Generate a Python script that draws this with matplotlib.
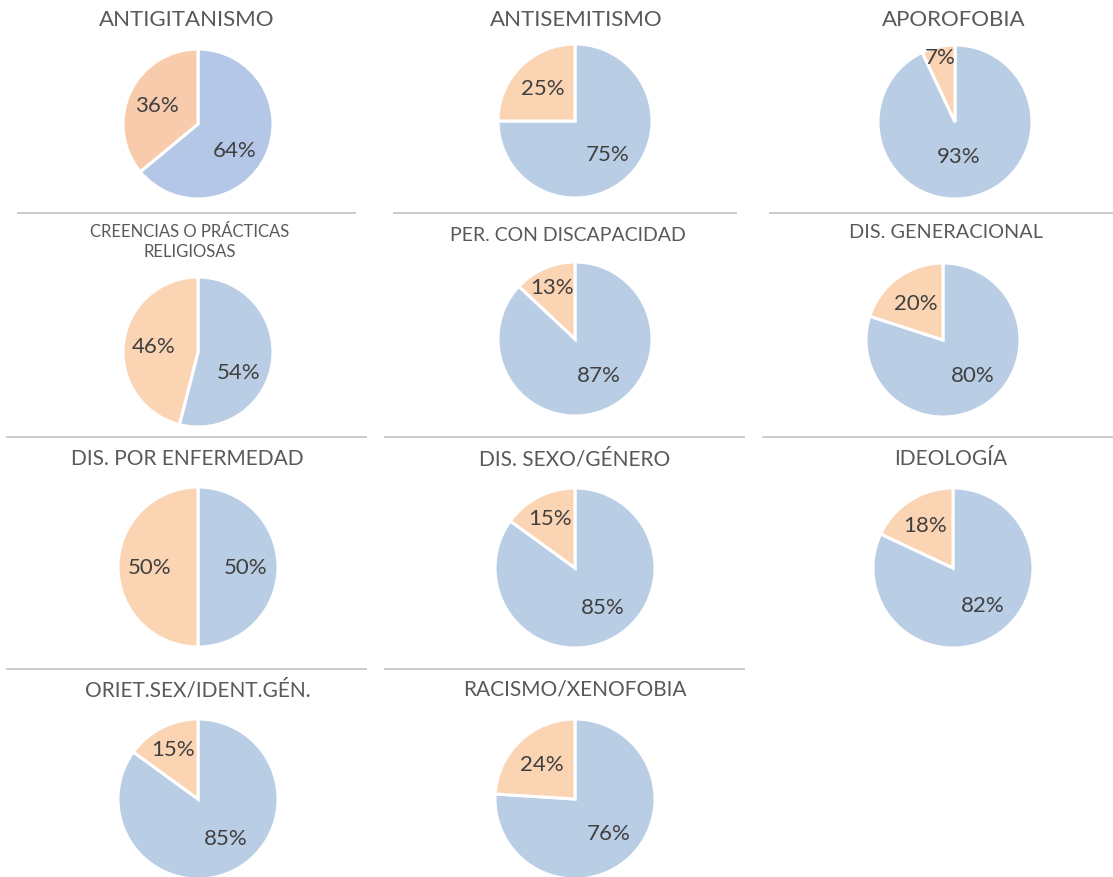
import numpy as np
from matplotlib import pyplot as plt
from matplotlib.lines import Line2D

plt.rcParams['font.family'] = ['Lato', 'DejaVu Sans']

# data: share of each category (blue part, orange part) in percent
titles = ['ANTIGITANISMO', 'ANTISEMITISMO', 'APOROFOBIA',
          'CREENCIAS O PRÁCTICAS\nRELIGIOSAS', 'PER. CON DISCAPACIDAD', 'DIS. GENERACIONAL',
          'DIS. POR ENFERMEDAD', 'DIS. SEXO/GÉNERO', 'IDEOLOGÍA',
          'ORIET.SEX/IDENT.GÉN.', 'RACISMO/XENOFOBIA']
blue_pct = [64, 75, 93, 54, 87, 80, 50, 85, 82, 85, 76]
orange_pct = [36, 25, 7, 46, 13, 20, 50, 15, 18, 15, 24]

# layout in pixels (figure 1113 x 878)
W, H = 1113, 878
pie_centers = [(198, 125), (575, 122), (955, 123),
               (198, 353), (575, 340), (943, 341),
               (198, 568), (575, 569), (953, 569),
               (198, 800), (575, 800)]
pie_radius = [75, 77, 77, 75, 77, 77, 80, 80, 80, 80, 80]
title_pos = [(187, 20), (576, 20), (954, 20),
             (190, 242), (568, 236), (946, 233),
             (187, 459), (575, 459), (951, 459),
             (198, 690), (575, 690)]
title_size = [16, 16, 16, 12, 14, 14.3, 15, 15, 15, 15, 15]

BLUE = '#B9CDE5'
ORANGE = '#FBD4B4'
BLUE_1 = '#B4C7E7'
ORANGE_1 = '#F8CBAD'

fig = plt.figure(figsize=(W / 100, H / 100), dpi=100)
fig.patch.set_facecolor('white')

for i, title in enumerate(titles):
    cx, cy = pie_centers[i]
    r = pie_radius[i]
    ax = fig.add_axes([(cx - r) / W, 1 - (cy + r) / H, 2 * r / W, 2 * r / H])
    colors = [BLUE_1, ORANGE_1] if i == 0 else [BLUE, ORANGE]
    vals = [blue_pct[i], orange_pct[i]]
    wedges, _ = ax.pie(vals, colors=colors, startangle=90, counterclock=False,
                       wedgeprops=dict(edgecolor='white', linewidth=2.2))
    # percentage labels, roughly where excel puts them
    total = sum(vals)
    for w, v in zip(wedges, vals):
        frac = v / total
        mid = (w.theta1 + w.theta2) / 2
        if mid > 180:
            mid -= 360
        dist = 0.6
        if frac < 0.2:
            dist = 0.6 + (0.2 - frac) * 2
        if frac > 0.85:
            dist = 0.6 - (frac - 0.85) * 2
        if frac > 0.52:
            target = -90 if frac > 0.9 else -45
            mid = mid + (target - mid) * 0.5
        a = np.deg2rad(mid)
        ax.text(dist * np.cos(a), dist * np.sin(a), f'{v}%', ha='center', va='center',
                fontsize=16, color='#404040')
    ax.set_xlim(-1, 1)
    ax.set_ylim(-1, 1)
    ax.set_aspect('equal')
    ax.axis('off')

    tx, ty = title_pos[i]
    fig.text(tx / W, 1 - ty / H, title, ha='center', va='center', fontsize=title_size[i],
             color='#595959', linespacing=1.3)

# separator lines between rows
separators = [(214, 18, 355), (214, 394, 736), (214, 770, 1113),
              (438, 7, 366), (438, 385, 744), (438, 763, 1113),
              (670, 7, 366), (670, 385, 744)]
for y, x0, x1 in separators:
    fig.add_artist(Line2D([x0 / W, x1 / W], [1 - y / H, 1 - y / H], color='#C6C6C6', linewidth=1.3))

plt.savefig('out.png', dpi=100)
